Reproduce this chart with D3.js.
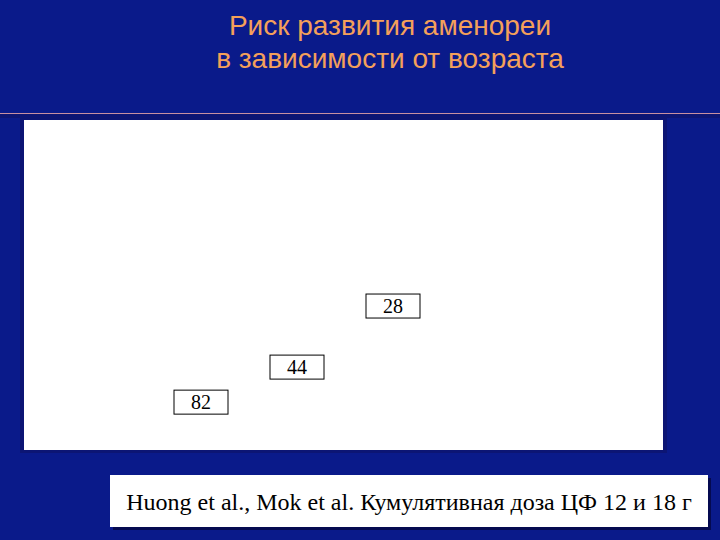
<!DOCTYPE html>
<html>
<head>
<meta charset="utf-8">
<title>Риск развития аменореи</title>
<script src="https://d3js.org/d3.v7.min.js"></script>
<style>
body { margin: 0; background: #0a1a8a; }
svg { display: block; }
</style>
</head>
<body>
<div id="chart"></div>
<script>
// data
var groups = ["группа 1", "группа 2", "группа 3"];
var amenorrheaRisk = [82, 44, 28];      // label values
var barHeights = [7.7, 19, 38.7];        // hidden (white) bars under the labels
var titleLines = ["Риск развития аменореи", "в зависимости от возраста"];
var sourceNote = "Huong et al., Mok et al. Кумулятивная доза ЦФ 12 и 18 г";

var W = 720, H = 540;
var svg = d3.select("#chart").append("svg")
    .attr("width", W)
    .attr("height", H);

svg.append("rect").attr("width", W).attr("height", H).attr("fill", "#0a1a8a");

// title
svg.selectAll(".title")
    .data(titleLines)
  .enter().append("text")
    .attr("class", "title")
    .attr("x", 390)
    .attr("y", function(d, i) { return 35 + i * 33; })
    .attr("text-anchor", "middle")
    .style("font-family", "'Liberation Sans', Arial, sans-serif")
    .style("font-size", "28px")
    .attr("fill", "#f4a05a")
    .text(function(d) { return d; });

// separator line
svg.append("rect").attr("x", 0).attr("y", 114).attr("width", W).attr("height", 4).attr("fill", "#0c1574");
svg.append("line")
    .attr("x1", 0).attr("x2", W)
    .attr("y1", 113.5).attr("y2", 113.5)
    .attr("stroke", "#c890a0")
    .attr("stroke-width", 1);

// plot panel
var panel = {left: 24, top: 120, right: 663, bottom: 450};
svg.append("rect")
    .attr("x", panel.left - 4).attr("y", panel.top - 3)
    .attr("width", panel.right - panel.left + 8).attr("height", panel.bottom - panel.top + 6)
    .attr("fill", "#0c1574");
svg.append("rect")
    .attr("x", panel.left).attr("y", panel.top)
    .attr("width", panel.right - panel.left).attr("height", panel.bottom - panel.top)
    .attr("fill", "#ffffff");

var x = d3.scaleBand()
    .domain(groups)
    .range([153, 441])
    .padding(0);
var y = d3.scaleLinear()
    .domain([0, 100])
    .range([440, 130]);

var g = svg.append("g");
var boxW = 54, boxH = 24;

// bars are white on white in the original
g.selectAll(".bar")
    .data(groups)
  .enter().append("rect")
    .attr("class", "bar")
    .attr("x", function(d) { return x(d) + (x.bandwidth() - boxW) / 2; })
    .attr("width", boxW)
    .attr("y", function(d, i) { return y(barHeights[i]); })
    .attr("height", function(d, i) { return y(0) - y(barHeights[i]); })
    .attr("fill", "#ffffff");

var lab = g.selectAll(".lab")
    .data(groups)
  .enter().append("g")
    .attr("class", "lab")
    .attr("transform", function(d, i) {
      var cx = x(d) + x.bandwidth() / 2;
      var cy = y(barHeights[i]) - 2 - boxH / 2;
      return "translate(" + cx + "," + cy + ")";
    });
lab.append("rect")
    .attr("x", -boxW / 2).attr("y", -boxH / 2)
    .attr("width", boxW).attr("height", boxH)
    .attr("fill", "#ffffff")
    .attr("stroke", "#000000")
    .attr("stroke-width", 1);
lab.append("text")
    .attr("text-anchor", "middle")
    .attr("y", 7)
    .style("font-family", "'Liberation Serif', 'Times New Roman', serif")
    .style("font-size", "20px")
    .attr("fill", "#000000")
    .text(function(d, i) { return amenorrheaRisk[i]; });

// source note box
svg.append("rect").attr("x", 113).attr("y", 478).attr("width", 598).attr("height", 52).attr("fill", "#050a50");
svg.append("rect").attr("x", 110).attr("y", 475).attr("width", 598).attr("height", 52).attr("fill", "#ffffff");
svg.append("text")
    .attr("x", 409)
    .attr("y", 510)
    .attr("text-anchor", "middle")
    .style("font-family", "'Liberation Serif', 'Times New Roman', serif")
    .style("font-size", "24px")
    .attr("fill", "#000000")
    .text(sourceNote);
</script>
</body>
</html>
